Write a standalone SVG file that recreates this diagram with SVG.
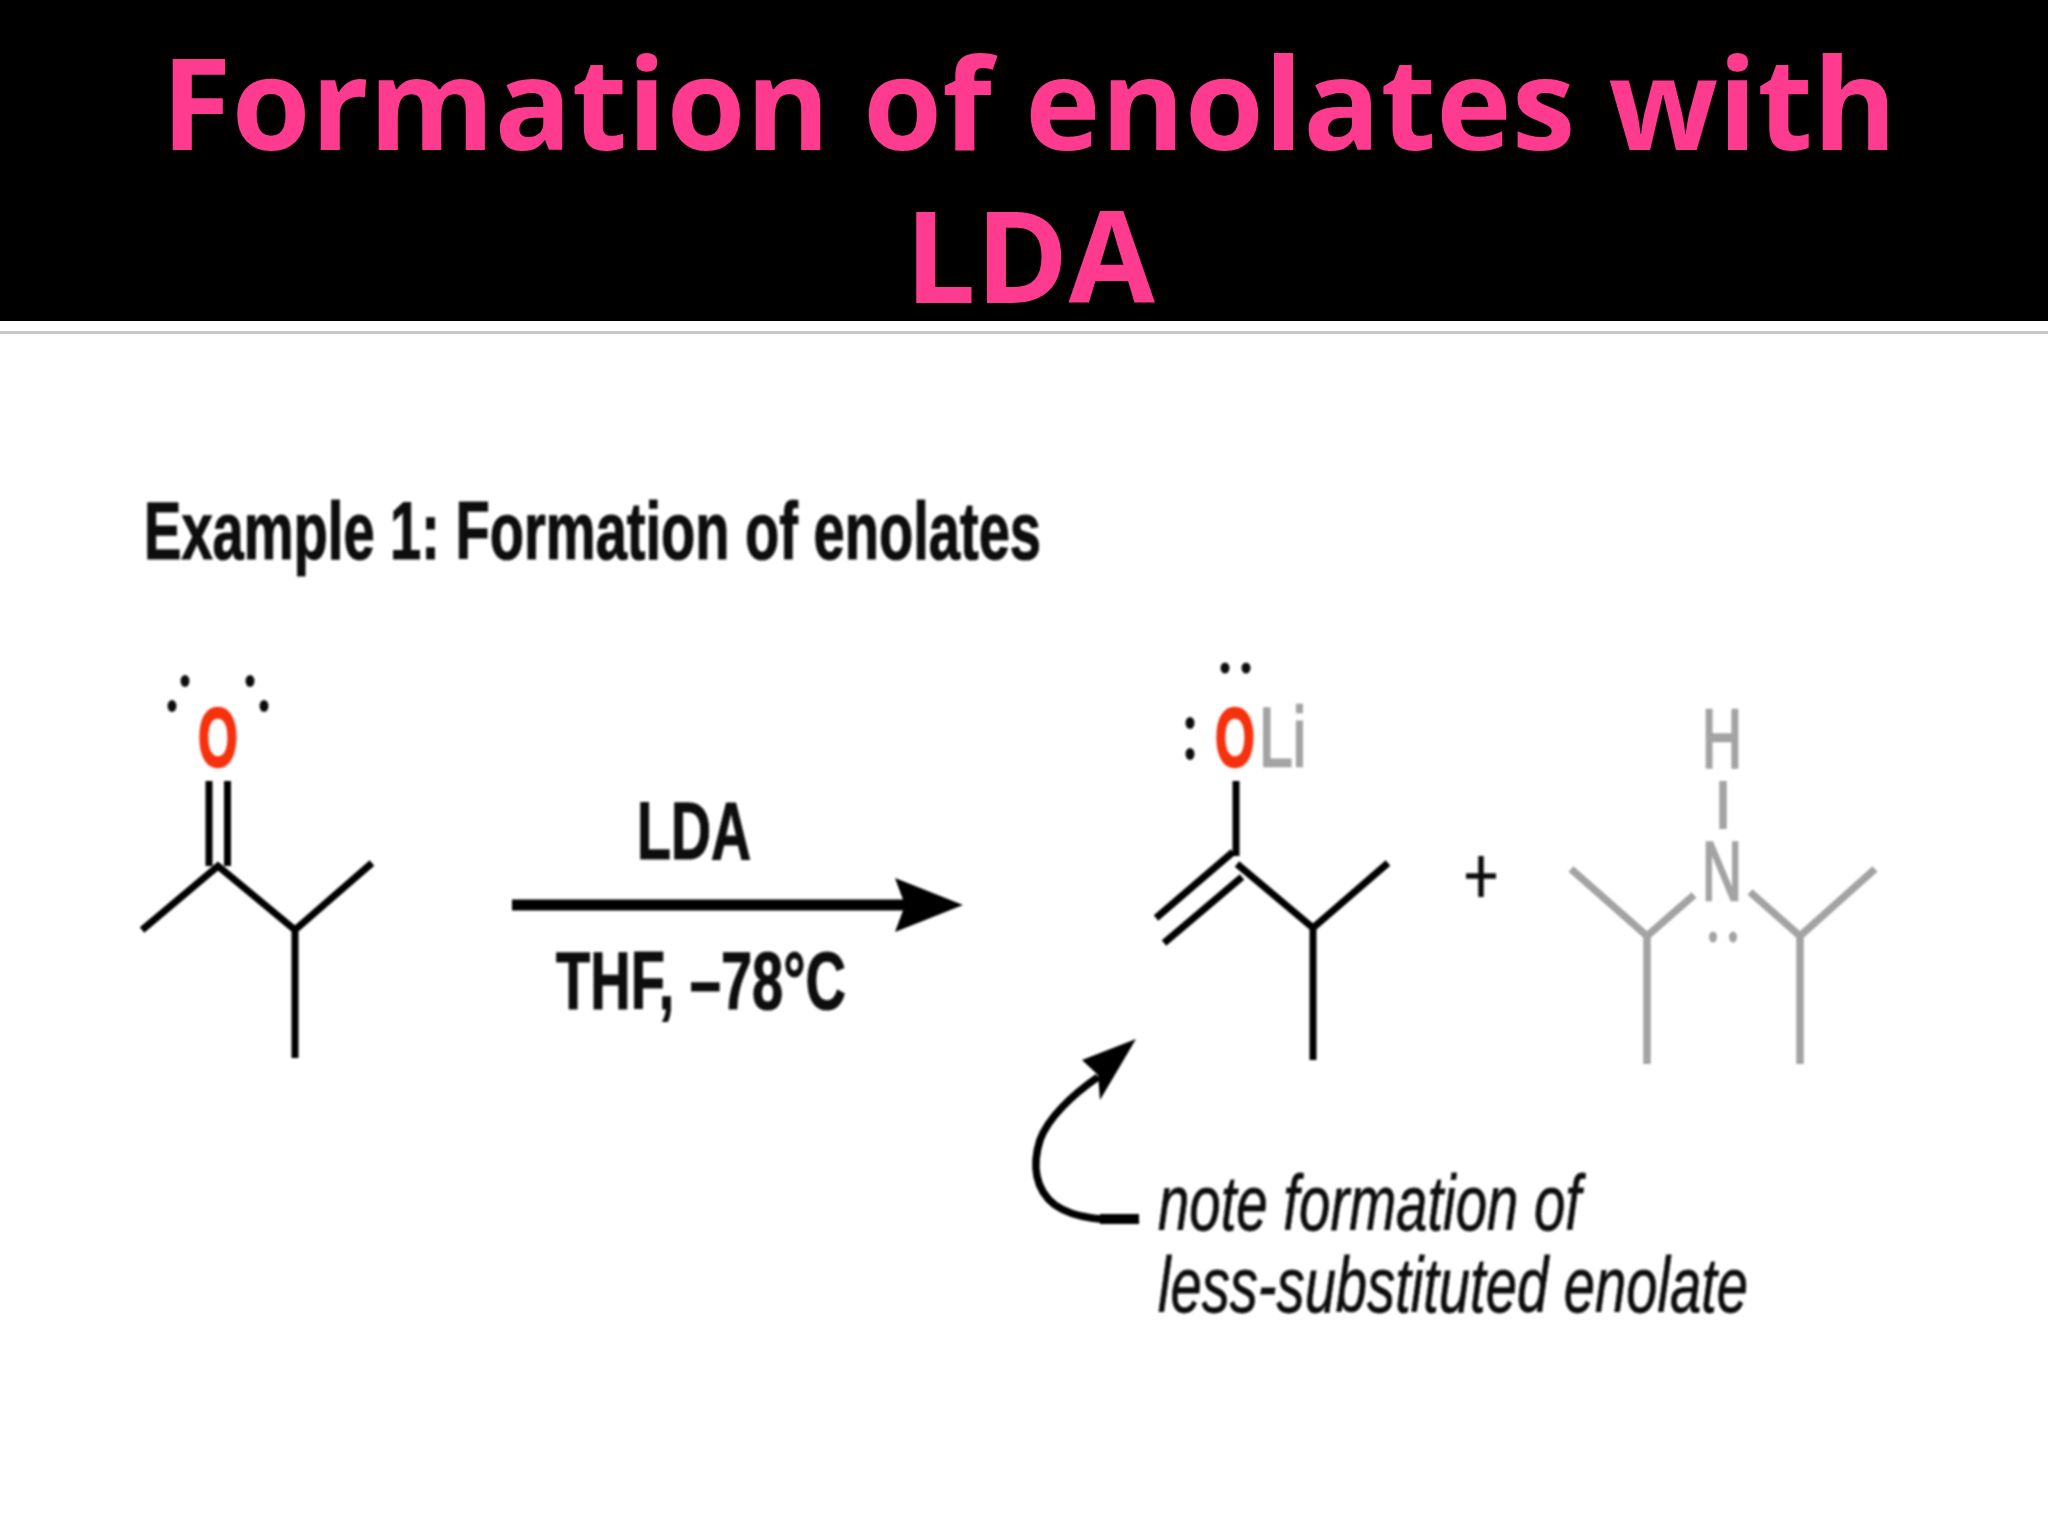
<svg xmlns="http://www.w3.org/2000/svg" width="2048" height="1536" viewBox="0 0 2048 1536">
<style>
.title{font-family:"Open Sans","DejaVu Sans",sans-serif;font-weight:700;font-size:128px;fill:#ff3b8f;text-anchor:middle}
.b{font-family:"Liberation Sans",Arial,sans-serif;font-weight:700;font-size:82px;fill:#111;stroke:#111;stroke-width:1.2}
.at{font-family:"Liberation Sans",Arial,sans-serif;font-size:84px}
.red{fill:#f5300f;stroke:#f5300f;stroke-width:2.5;font-weight:700}
.gr{fill:#a3a3a3;stroke:#a3a3a3;stroke-width:2.5}
.i{font-family:"Liberation Sans",Arial,sans-serif;font-style:italic;font-size:78px;fill:#111;stroke:#111;stroke-width:.8}
.bond{fill:none;stroke:#000;stroke-width:7}
.gbond{fill:none;stroke:#a3a3a3;stroke-width:7.500}
.soft{filter:url(#soft)}
</style>
<defs><filter id="soft" x="-5%" y="-5%" width="110%" height="110%"><feGaussianBlur stdDeviation="0.9"/></filter></defs>
<rect width="2048" height="1536" fill="#fff"/>
<g id="header">
<rect width="2048" height="321" fill="#000"/>
<rect y="331" width="2048" height="3" fill="#c8c8c8"/>
<text class="title" x="1029" y="150">Formation of enolates with</text>
<text class="title" x="1032" y="303" textLength="250" lengthAdjust="spacingAndGlyphs" transform="translate(-2 0)">LDA</text>
</g>
<g class="soft">
<text id="heading" class="b" x="144" y="559" textLength="897" lengthAdjust="spacingAndGlyphs">Example 1: Formation of enolates</text>
<g id="ketone">
<path class="bond" d="M142 930L218 866L295 930L372 863M295 930V1058"/>
<path class="bond" d="M209 781V866M227.500 781V866"/>
<text class="at red" transform="translate(198 766) scale(.61 1)">O</text>
<g fill="#111"><ellipse cx="185" cy="681" rx="4.500" ry="6"/><ellipse cx="250" cy="681" rx="4.500" ry="6"/><ellipse cx="172" cy="706" rx="4.500" ry="6"/><ellipse cx="264" cy="706" rx="4.500" ry="6"/></g>
</g>
<g id="connectors">
<g id="reaction-arrow"><path d="M512 905H905" stroke="#000" stroke-width="11" fill="none"/><polygon points="895,878 963,905 895,932 905,905" fill="#000"/></g>
<g id="note-arrow"><path d="M1139 1219C1105 1221 1075 1219 1055 1205C1035 1190 1032 1165 1040 1140C1048 1118 1072 1095 1098 1077" fill="none" stroke="#000" stroke-width="7.500"/><path d="M1139 1219H1100" stroke="#000" stroke-width="10" fill="none"/><polygon points="1136,1039 1082,1060 1098,1075 1100,1100" fill="#000"/></g>
</g>
<g id="reagents">
<text class="b" x="637" y="859" textLength="114" lengthAdjust="spacingAndGlyphs">LDA</text>
<text class="b" x="556" y="1009" textLength="290" lengthAdjust="spacingAndGlyphs">THF, –78°C</text>
</g>
<g id="enolate">
<path class="bond" d="M1236 781V856"/>
<path class="bond" d="M1156 918L1233 852M1164 943L1242 877"/>
<path class="bond" d="M1237 864L1313 928L1388 863M1313 928V1060"/>
<text class="at red" transform="translate(1215 766) scale(.61 1)">O</text>
<text class="at gr" transform="translate(1259 766) scale(.72 1)">Li</text>
<g fill="#111"><ellipse cx="1190" cy="723" rx="4.500" ry="6"/><ellipse cx="1190" cy="754" rx="4.500" ry="6"/><ellipse cx="1225" cy="668" rx="4.500" ry="5.500"/><ellipse cx="1246" cy="668" rx="4.500" ry="5.500"/></g>
</g>
<g id="plus"><path d="M1466 876H1496M1481 856V897" stroke="#111" stroke-width="5.500" fill="none"/></g>
<g id="amine">
<text class="at gr" x="1702" y="768" textLength="40" lengthAdjust="spacingAndGlyphs">H</text>
<text class="at gr" x="1702" y="900" textLength="40" lengthAdjust="spacingAndGlyphs">N</text>
<path class="gbond" d="M1723 781V829"/>
<path class="gbond" d="M1571 869L1647 936L1694 895M1647 936V1064"/>
<path class="gbond" d="M1750 892L1800 936L1875 869M1800 936V1064"/>
<g fill="#a3a3a3"><ellipse cx="1713" cy="937" rx="4" ry="5.500"/><ellipse cx="1733" cy="937" rx="4" ry="5.500"/></g>
</g>
<g id="note">
<text class="i" x="1158" y="1230" textLength="423" lengthAdjust="spacingAndGlyphs">note formation of</text>
<text class="i" x="1158" y="1312" textLength="590" lengthAdjust="spacingAndGlyphs">less-substituted enolate</text>
</g>
</g>
</svg>
